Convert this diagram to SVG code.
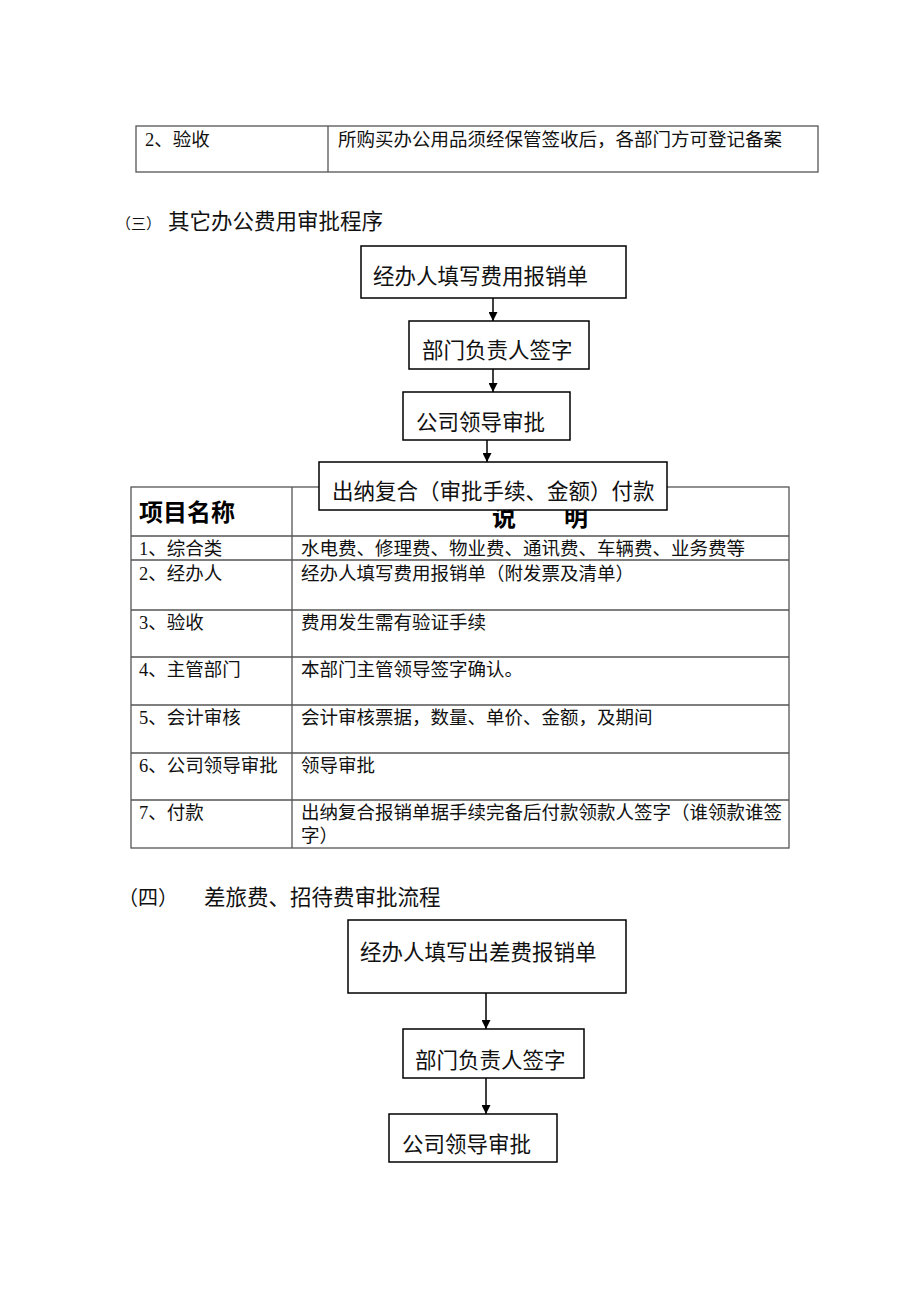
<svg xmlns="http://www.w3.org/2000/svg" width="920" height="1302" viewBox="0 0 920 1302">
<defs>
<marker id="ah" viewBox="0 0 10 10" refX="10" refY="5" markerWidth="9" markerHeight="9" markerUnits="userSpaceOnUse" orient="auto">
<path d="M0,0 L10,5 L0,10 z" fill="#000"/>
</marker>
<style>
.t{font-family:"Liberation Serif","Noto Sans CJK SC",serif;font-size:18.5px;fill:#111}
.b{font-family:"Liberation Sans","Noto Sans CJK SC",sans-serif;font-size:21.5px;fill:#111}
.h{font-family:"Liberation Sans","Noto Sans CJK SC",sans-serif;font-size:24px;font-weight:bold;fill:#000}
.grid{fill:none;stroke:#555;stroke-width:1.3}
.box{fill:#fff;stroke:#000;stroke-width:1.5}
.c{stroke:#000;stroke-width:1.5;fill:none;marker-end:url(#ah)}
</style>
</defs>
<rect width="920" height="1302" fill="#fff"/>

<g id="table1">
<rect class="grid" x="136" y="126" width="682" height="46"/>
<line class="grid" x1="328" y1="126" x2="328" y2="172"/>
<text class="t" x="145" y="146">2、验收</text>
<text class="t" x="338" y="146">所购买办公用品须经保管签收后，各部门方可登记备案</text>
</g>

<g id="heading3">
<text class="t" x="116" y="229" style="font-size:15px">（三）</text>
<text class="b" x="168" y="229">其它办公费用审批程序</text>
</g>

<g id="table2">
<rect class="grid" x="131" y="487" width="658" height="361"/>
<line class="grid" x1="292" y1="487" x2="292" y2="848"/>
<line class="grid" x1="131" y1="536" x2="789" y2="536"/>
<line class="grid" x1="131" y1="560" x2="789" y2="560"/>
<line class="grid" x1="131" y1="610" x2="789" y2="610"/>
<line class="grid" x1="131" y1="657" x2="789" y2="657"/>
<line class="grid" x1="131" y1="705" x2="789" y2="705"/>
<line class="grid" x1="131" y1="753" x2="789" y2="753"/>
<line class="grid" x1="131" y1="800" x2="789" y2="800"/>
<text class="h" x="139" y="521">项目名称</text>
<text class="h" x="540" y="526" text-anchor="middle">说　　明</text>
<text class="t" x="139" y="555">1、综合类</text>
<text class="t" x="301" y="555">水电费、修理费、物业费、通讯费、车辆费、业务费等</text>
<text class="t" x="139" y="580">2、经办人</text>
<text class="t" x="301" y="580">经办人填写费用报销单（附发票及清单）</text>
<text class="t" x="139" y="629">3、验收</text>
<text class="t" x="301" y="629">费用发生需有验证手续</text>
<text class="t" x="139" y="676">4、主管部门</text>
<text class="t" x="301" y="676">本部门主管领导签字确认。</text>
<text class="t" x="139" y="724">5、会计审核</text>
<text class="t" x="301" y="724">会计审核票据，数量、单价、金额，及期间</text>
<text class="t" x="139" y="772">6、公司领导审批</text>
<text class="t" x="301" y="772">领导审批</text>
<text class="t" x="139" y="819">7、付款</text>
<text class="t" x="301" y="819">出纳复合报销单据手续完备后付款领款人签字（谁领款谁签</text>
<text class="t" x="301" y="842">字）</text>
</g>

<g id="connectors">
<line class="c" x1="493" y1="298" x2="493" y2="321"/>
<line class="c" x1="493" y1="369" x2="493" y2="392"/>
<line class="c" x1="487" y1="440" x2="487" y2="462"/>
<line class="c" x1="486" y1="993" x2="486" y2="1029"/>
<line class="c" x1="486" y1="1078" x2="486" y2="1114"/>
</g>

<g id="n1">
<rect class="box" x="361" y="246" width="265" height="52"/>
<text class="b" x="373" y="284">经办人填写费用报销单</text>
</g>
<g id="n2">
<rect class="box" x="409" y="321" width="180" height="48"/>
<text class="b" x="422" y="358">部门负责人签字</text>
</g>
<g id="n3">
<rect class="box" x="403" y="392" width="167" height="48"/>
<text class="b" x="416" y="430">公司领导审批</text>
</g>
<g id="n4">
<rect class="box" x="319" y="462" width="348" height="48"/>
<text class="b" x="332" y="499">出纳复合（审批手续、金额）付款</text>
</g>

<g id="heading4">
<text class="b" x="118" y="905" style="font-size:20px">（四）</text>
<text class="b" x="204" y="905">差旅费、招待费审批流程</text>
</g>

<g id="n5">
<rect class="box" x="348" y="920" width="278" height="73"/>
<text class="b" x="360" y="960">经办人填写出差费报销单</text>
</g>
<g id="n6">
<rect class="box" x="403" y="1029" width="181" height="49"/>
<text class="b" x="415" y="1068">部门负责人签字</text>
</g>
<g id="n7">
<rect class="box" x="389" y="1114" width="168" height="48"/>
<text class="b" x="402" y="1152">公司领导审批</text>
</g>
</svg>
